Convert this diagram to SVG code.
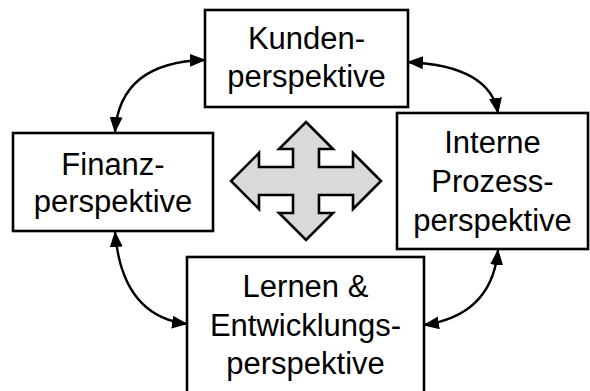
<svg xmlns="http://www.w3.org/2000/svg" width="590" height="391" viewBox="0 0 590 391">
<style>
.box{fill:#fff;stroke:#000;stroke-width:2.6}
.t{font-family:"Liberation Sans",Arial,sans-serif;font-size:31px;fill:#000;text-anchor:middle}
.c{fill:none;stroke:#000;stroke-width:2.4}
</style>
<defs>
<marker id="ah" markerWidth="16" markerHeight="13" refX="15" refY="6.5" orient="auto-start-reverse" markerUnits="userSpaceOnUse">
<path d="M0,0 L16,6.5 L0,13 z" fill="#000"/>
</marker>
</defs>
<rect width="590" height="391" fill="#fff"/>
<g id="connectors">
<path class="c" d="M115,132 Q120,62 205,60" marker-start="url(#ah)" marker-end="url(#ah)"/>
<path class="c" d="M408,62 Q490,66 498,113" marker-start="url(#ah)" marker-end="url(#ah)"/>
<path class="c" d="M115,232 Q122,316 187,324" marker-start="url(#ah)" marker-end="url(#ah)"/>
<path class="c" d="M498,250 Q492,315 424,325" marker-start="url(#ah)" marker-end="url(#ah)"/>
</g>
<g id="cross">
<polygon points="306,122 333,149 319,149 319,167 353,167 353,153 381,181 353,209 353,195 319,195 319,213 333,213 306,240 279,213 293,213 293,195 259,195 259,209 231,181 259,153 259,167 293,167 293,149 279,149" fill="#d9d9d9" stroke="#000" stroke-width="2.6" stroke-linejoin="miter"/>
</g>
<g id="kunden">
<rect class="box" x="205" y="10" width="203" height="97"/>
<text class="t" x="306.5" y="49">Kunden-</text>
<text class="t" x="306.5" y="87">perspektive</text>
</g>
<g id="finanz">
<rect class="box" x="13" y="133" width="200" height="98"/>
<text class="t" x="113" y="175">Finanz-</text>
<text class="t" x="113" y="212">perspektive</text>
</g>
<g id="interne">
<rect class="box" x="397" y="113" width="191" height="136"/>
<text class="t" x="492.5" y="153">Interne</text>
<text class="t" x="492.5" y="192">Prozess-</text>
<text class="t" x="492.5" y="231">perspektive</text>
</g>
<g id="lernen">
<rect class="box" x="187" y="257" width="237" height="140"/>
<text class="t" x="305.5" y="297">Lernen &amp;</text>
<text class="t" x="305.5" y="336">Entwicklungs-</text>
<text class="t" x="305.5" y="374">perspektive</text>
</g>
</svg>
